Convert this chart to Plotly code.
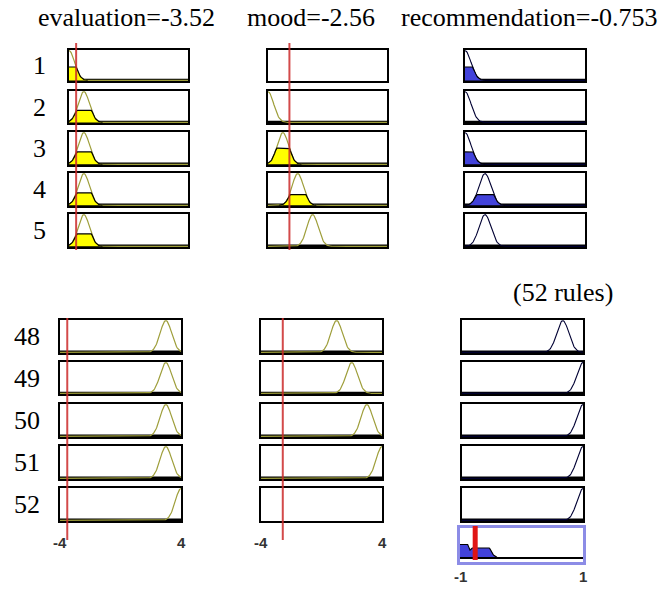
import numpy as np
import plotly.graph_objects as go

# ---------------- data ----------------
rule_numbers = [1, 2, 3, 4, 5, 48, 49, 50, 51, 52]
evaluation_mf_centers = [-4, -3, -3, -3, -3, 3, 3, 3, 3, 4]
mood_mf_centers = [None, -4, -3, -2, -1, 1, 2, 3, 4, None]
recommendation_mf_centers = [-1, -1, -1, -2/3, -2/3, 2/3, 1, 1, 1, 1]
input_sigma = 0.38
output_sigma = 0.1
evaluation_value = -3.52
mood_value = -2.56
recommendation_value = -0.753
input_range = [-4, 4]
output_range = [-1, 1]
input_tick_labels = ["-4", "4"]
output_tick_labels = ["-1", "1"]
total_rules = 52

# ---------------- geometry ----------------
W, H = 666, 590
top_rows_y = [(50, 81), (91, 123), (132, 165), (173, 206), (214, 247)]
bot_rows_y = [(320, 353), (362, 394), (404, 437), (446, 479), (488, 521)]
top_cols_x = [(69, 188), (268, 387), (465, 585)]
bot_cols_x = [(60, 181), (261, 382), (462, 583)]
agg_x, agg_y = (460, 583), (528, 562)


def px_dx(a, b):
    return [a / W, b / W]


def px_dy(a, b):
    return [1 - b / H, 1 - a / H]


def gauss(x, c, s):
    return np.exp(-((x - c) ** 2) / (2 * s * s))


fig = go.Figure()
layout = {}
axis_count = [0]


def new_axis(xpx, ypx, xr, yr, linecolor="black", lw=1.5):
    axis_count[0] += 1
    k = axis_count[0]
    common = dict(showgrid=False, zeroline=False, showticklabels=False, ticks="",
                  showline=True, mirror=True, linecolor=linecolor, linewidth=lw,
                  fixedrange=True)
    layout["xaxis%d" % k] = dict(domain=px_dx(*xpx), range=xr, anchor="y%d" % k, **common)
    layout["yaxis%d" % k] = dict(domain=px_dy(*ypx), range=yr, anchor="x%d" % k, **common)
    return ("x%d" % k, "y%d" % k)


OLIVE = "#9E9E3A"
YELLOW = "#FFFF00"
BLUE = "#4242DA"

xin = np.linspace(input_range[0], input_range[1], 161)
xout = np.linspace(output_range[0], output_range[1], 161)
yr = [-0.02, 1.02]

agg_curve = np.zeros_like(xout)
axes_ref = {}

for r, rn in enumerate(rule_numbers):
    top = r < 5
    rows_y = top_rows_y[r] if top else bot_rows_y[r - 5]
    cols_x = top_cols_x if top else bot_cols_x
    levels = []
    for col, (center, value) in enumerate([(evaluation_mf_centers[r], evaluation_value),
                                           (mood_mf_centers[r], mood_value)]):
        xa, ya = new_axis(cols_x[col], rows_y, input_range, yr)
        axes_ref[(r, col)] = xa
        if center is None:
            continue
        mf = gauss(xin, center, input_sigma)
        level = float(gauss(value, center, input_sigma))
        levels.append(level)
        fig.add_trace(go.Scatter(x=input_range, y=[0, 0], mode="lines",
                                 line=dict(color="black", width=3.5),
                                 xaxis=xa, yaxis=ya, hoverinfo="skip"))
        fig.add_trace(go.Scatter(x=xin, y=mf, mode="lines", line=dict(color=OLIVE, width=1.2),
                                 xaxis=xa, yaxis=ya, hoverinfo="skip"))
        if level > 0.01:
            m = mf > 0.004
            fig.add_trace(go.Scatter(x=xin[m], y=np.minimum(mf[m], level), mode="lines",
                                     fill="tozeroy", fillcolor=YELLOW,
                                     line=dict(color="black", width=1.2),
                                     xaxis=xa, yaxis=ya, hoverinfo="skip"))
    # output
    xa, ya = new_axis(cols_x[2], rows_y, output_range, yr)
    axes_ref[(r, 2)] = xa
    firing = min(levels) if levels else 0.0
    mf = gauss(xout, recommendation_mf_centers[r], output_sigma)
    fig.add_trace(go.Scatter(x=output_range, y=[0, 0], mode="lines",
                             line=dict(color="black", width=3.5),
                             xaxis=xa, yaxis=ya, hoverinfo="skip"))
    fig.add_trace(go.Scatter(x=xout, y=mf, mode="lines", line=dict(color="#000033", width=1.1),
                             xaxis=xa, yaxis=ya, hoverinfo="skip"))
    if firing > 0.01:
        clipped = np.minimum(mf, firing)
        agg_curve = np.maximum(agg_curve, clipped)
        m = mf > 0.004
        fig.add_trace(go.Scatter(x=xout[m], y=clipped[m], mode="lines",
                                 fill="tozeroy", fillcolor=BLUE,
                                 line=dict(color="black", width=1.1),
                                 xaxis=xa, yaxis=ya, hoverinfo="skip"))

# aggregate output
xa, ya = new_axis(agg_x, agg_y, output_range, [-0.13, 1.0], linecolor="#8C8CE6", lw=2.5)
axes_ref["agg"] = xa
m = agg_curve > 0.004
fig.add_trace(go.Scatter(x=xout[m], y=agg_curve[m], mode="lines", fill="tozeroy",
                         fillcolor=BLUE, line=dict(color="black", width=1.1),
                         xaxis=xa, yaxis=ya, hoverinfo="skip"))
fig.add_trace(go.Scatter(x=output_range, y=[0, 0], mode="lines",
                         line=dict(color="black", width=2),
                         xaxis=xa, yaxis=ya, hoverinfo="skip"))

shapes = []
RED = "#CC2B2B"
# input red lines
for col, value in [(0, evaluation_value), (1, mood_value)]:
    shapes.append(dict(type="line", xref=axes_ref[(0, col)], yref="paper",
                       x0=value, x1=value, y0=1 - 43 / H, y1=1 - 250 / H,
                       line=dict(color=RED, width=2), opacity=0.85))
    shapes.append(dict(type="line", xref=axes_ref[(5, col)], yref="paper",
                       x0=value, x1=value, y0=1 - 318 / H, y1=1 - 540 / H,
                       line=dict(color=RED, width=2), opacity=0.85))
shapes.append(dict(type="line", xref=axes_ref["agg"], yref="paper",
                   x0=recommendation_value, x1=recommendation_value,
                   y0=1 - 526 / H, y1=1 - 560 / H,
                   line=dict(color="#E01515", width=5)))

annotations = []
SERIF = "Liberation Serif, Times New Roman, serif"
FS = 26
title_texts = ["evaluation=%g" % evaluation_value, "mood=%g" % mood_value,
               "recommendation=%g" % recommendation_value]
title_cx = [126, 311, 529]
for t, cx in zip(title_texts, title_cx):
    annotations.append(dict(text=t, x=cx / W, y=1 - 18 / H, xref="paper", yref="paper",
                            showarrow=False, xanchor="center", yanchor="middle",
                            font=dict(family=SERIF, size=FS, color="black")))
annotations.append(dict(text="(%d rules)" % total_rules, x=563 / W, y=1 - 292 / H,
                        xref="paper", yref="paper", showarrow=False,
                        xanchor="center", yanchor="middle",
                        font=dict(family=SERIF, size=FS, color="black")))
for r, rn in enumerate(rule_numbers):
    top = r < 5
    y0, y1 = top_rows_y[r] if top else bot_rows_y[r - 5]
    cx = 39 if top else 27
    annotations.append(dict(text=str(rn), x=cx / W, y=1 - (y0 + y1) / 2 / H,
                            xref="paper", yref="paper", showarrow=False,
                            xanchor="center", yanchor="middle",
                            font=dict(family=SERIF, size=FS, color="black")))
SANS = "Liberation Sans, Arial, sans-serif"
for col in (0, 1):
    for lab, xv in zip(input_tick_labels, input_range):
        annotations.append(dict(text="<b>%s</b>" % lab, x=xv, y=1 - 542 / H,
                                xref=axes_ref[(9, col)],
                                yref="paper", showarrow=False, xanchor="center",
                                yanchor="middle",
                                font=dict(family=SANS, size=15, color="#333333")))
for lab, xv in zip(output_tick_labels, output_range):
    annotations.append(dict(text="<b>%s</b>" % lab, x=xv, y=1 - 576 / H, xref=axes_ref["agg"],
                            yref="paper", showarrow=False, xanchor="center",
                            yanchor="middle",
                            font=dict(family=SANS, size=15, color="#333333")))

fig.update_layout(width=W, height=H, margin=dict(l=0, r=0, t=0, b=0),
                  paper_bgcolor="white", plot_bgcolor="white", showlegend=False,
                  shapes=shapes, annotations=annotations, **layout)
fig.write_html("out.html", config={"displayModeBar": False},
               post_script="document.body.style.margin='0';document.body.style.padding='0';")
